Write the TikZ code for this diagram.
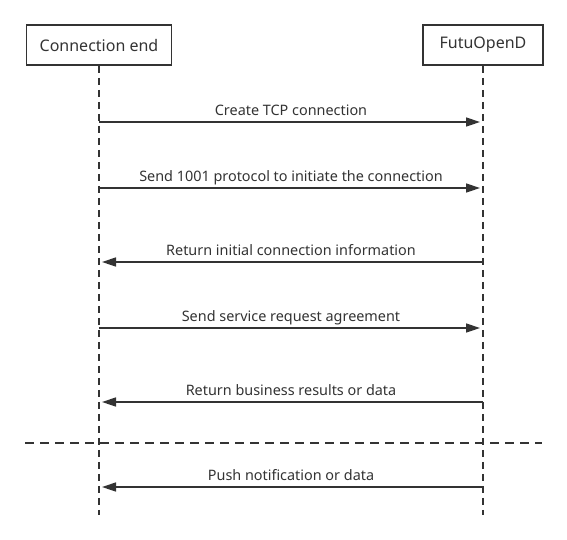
\documentclass[tikz,border=0pt]{standalone}
\usepackage{fontspec}
\setmainfont{Noto Sans}
\usetikzlibrary{arrows.meta}
\definecolor{ink}{HTML}{333333}
\begin{document}
\begin{tikzpicture}[x=1pt,y=-1pt,
  actor/.style={draw=ink,line width=1.8pt,minimum width=145pt,minimum height=40pt,inner sep=0pt,font=\fontsize{16}{18}\selectfont,text=ink},
  life/.style={draw=ink,line width=1.5pt,dash pattern=on 7pt off 5pt},
  msg/.style={draw=ink,line width=1.5pt,-{Triangle[length=14pt,width=9pt]},shorten >=3pt},
  lbl/.style={font=\fontsize{14.4}{16}\selectfont,text=ink,anchor=base}]
\useasboundingbox (0,0) rectangle (567,539);
\node[actor] (A) at (99,45) {Connection end};
\node[actor,minimum width=120pt] (B) at (483,45) {FutuOpenD};
\coordinate (Aend) at (99,515);
\coordinate (Bend) at (483,515);
\draw[life] (A.south) -- (Aend);
\draw[life] (B.south) -- (Bend);
\foreach \y/\n in {122/1,188/2,262/3,328/4,402/5,487/6}{
  \coordinate (a\n) at (99,\y);
  \coordinate (b\n) at (483,\y);
}
\draw[msg] (a1) -- (b1) node[lbl,pos=0.5,yshift=7pt] {Create TCP connection};
\draw[msg] (a2) -- (b2) node[lbl,pos=0.5,yshift=7pt] {Send 1001 protocol to initiate the connection};
\draw[msg] (b3) -- (a3) node[lbl,pos=0.5,yshift=7pt] {Return initial connection information};
\draw[msg] (a4) -- (b4) node[lbl,pos=0.5,yshift=7pt] {Send service request agreement};
\draw[msg] (b5) -- (a5) node[lbl,pos=0.5,yshift=7pt] {Return business results or data};
\coordinate (d1) at (25,443);
\coordinate (d2) at (542,443);
\draw[draw=ink,line width=1.5pt,dash pattern=on 9pt off 6pt] (d1) -- (d2);
\draw[msg] (b6) -- (a6) node[lbl,pos=0.5,yshift=7pt] {Push notification or data};
\end{tikzpicture}
\end{document}
